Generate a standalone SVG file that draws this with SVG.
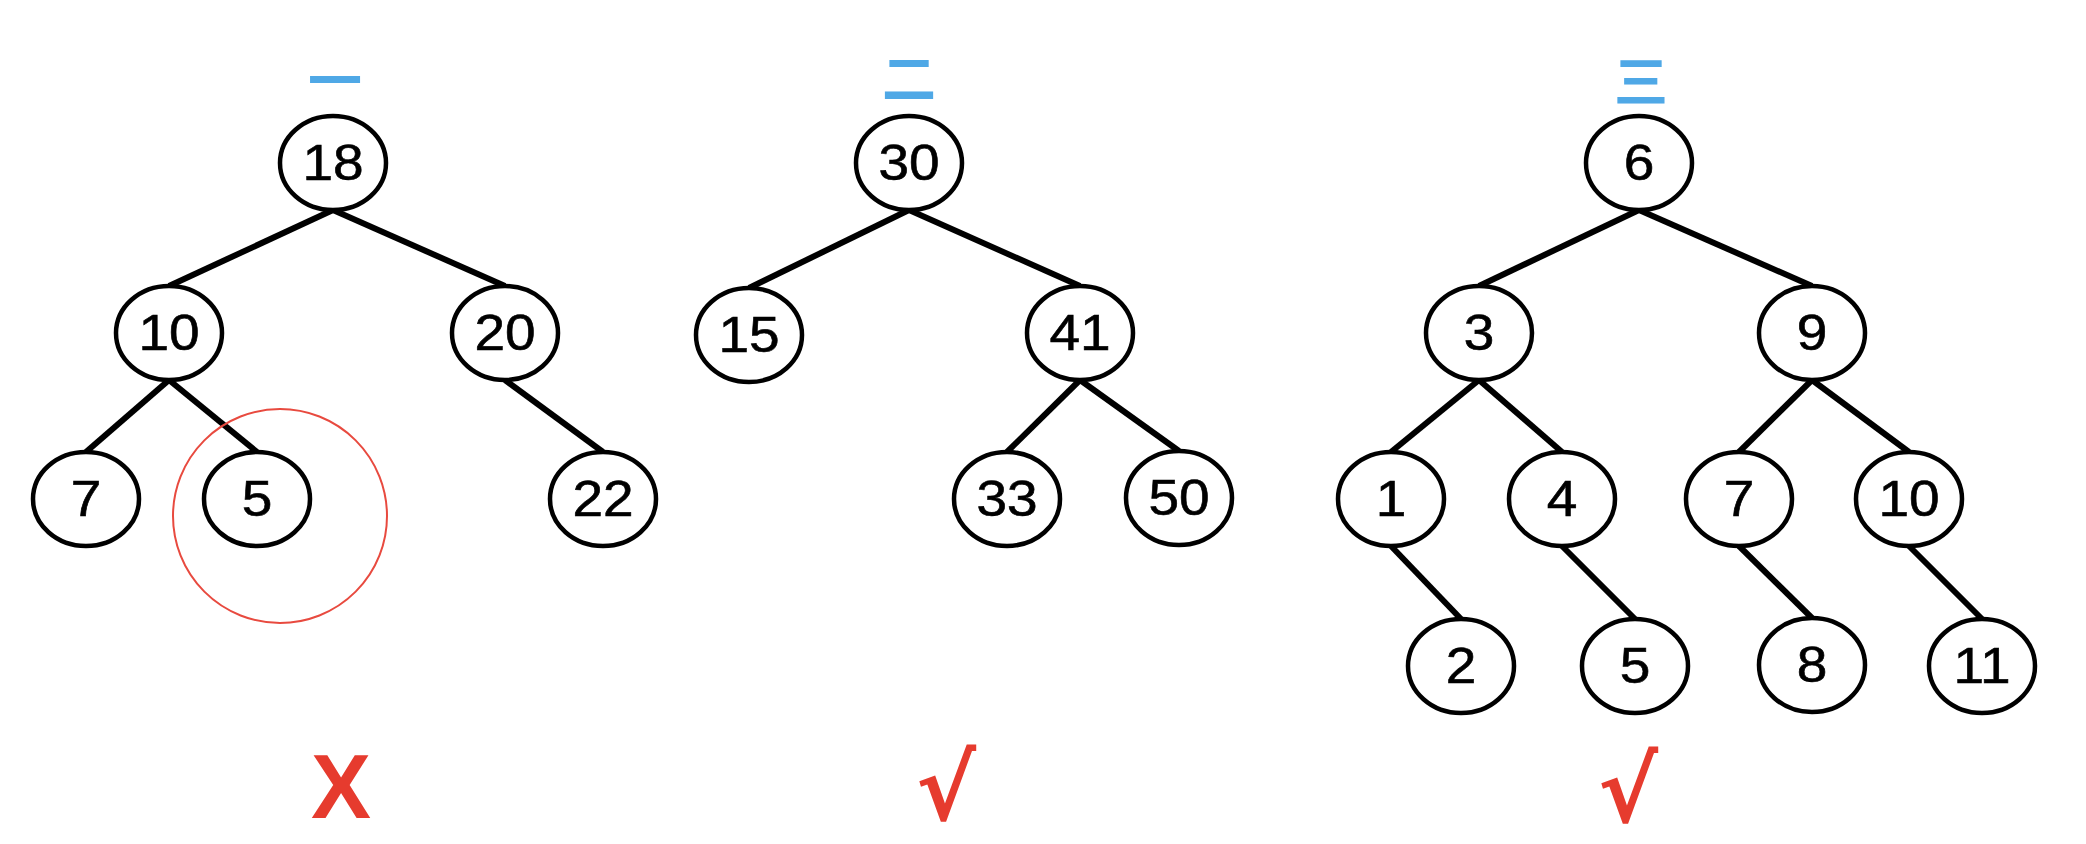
<svg xmlns="http://www.w3.org/2000/svg" width="2086" height="844" viewBox="0 0 2086 844">
  <style>
    .shape { fill: #ffffff; stroke: #000000; stroke-width: 4.5; }
    .label { font-family: "Liberation Sans", Arial, sans-serif; font-size: 50px; fill: #000000; stroke: #000000; stroke-width: 0.6; text-anchor: middle; }
    .edges line { stroke: #000000; stroke-width: 6; stroke-linecap: butt; }
    .title { font-family: "Noto Sans CJK SC", "Noto Sans", sans-serif; font-weight: bold; font-size: 54px; fill: #4fa8e6; text-anchor: middle; }
    .mark { font-family: "Liberation Sans", Arial, sans-serif; font-weight: bold; fill: #e63b2e; text-anchor: middle; }
    .tick { font-family: "DejaVu Sans", sans-serif; font-weight: bold; fill: #e63b2e; text-anchor: middle; }
  </style>
  <rect x="0" y="0" width="2086" height="844" fill="#ffffff"/>

  <!-- tree headings -->
  <text class="title" x="335" y="101">一</text>
  <text class="title" x="909" y="99">二</text>
  <text class="title" x="1641" y="102">三</text>

  <!-- connectors: parent bottom to child top -->
  <g id="connectors" class="edges">
    <!-- tree 1 -->
    <line x1="333" y1="210" x2="169" y2="286"/>
    <line x1="333" y1="210" x2="505" y2="286"/>
    <line x1="169" y1="380" x2="86" y2="452"/>
    <line x1="169" y1="380" x2="257" y2="452"/>
    <line x1="505" y1="380" x2="603" y2="452"/>
    <!-- tree 2 -->
    <line x1="909" y1="210" x2="749" y2="288"/>
    <line x1="909" y1="210" x2="1080" y2="286"/>
    <line x1="1080" y1="380" x2="1007" y2="452"/>
    <line x1="1080" y1="380" x2="1179" y2="451"/>
    <!-- tree 3 -->
    <line x1="1639" y1="210" x2="1479" y2="286"/>
    <line x1="1639" y1="210" x2="1812" y2="286"/>
    <line x1="1479" y1="380" x2="1391" y2="452"/>
    <line x1="1479" y1="380" x2="1562" y2="452"/>
    <line x1="1812" y1="380" x2="1739" y2="452"/>
    <line x1="1812" y1="380" x2="1909" y2="452"/>
    <line x1="1391" y1="546" x2="1461" y2="619"/>
    <line x1="1562" y1="546" x2="1635" y2="619"/>
    <line x1="1739" y1="546" x2="1812" y2="618"/>
    <line x1="1909" y1="546" x2="1982" y2="619"/>
  </g>

  <!-- tree 1 -->
  <g id="t1-n18" transform="translate(333,163)"><ellipse class="shape" rx="53" ry="47"/><text class="label" transform="scale(1.1,1)" y="17">18</text></g>
  <g id="t1-n10" transform="translate(169,333)"><ellipse class="shape" rx="53" ry="47"/><text class="label" transform="scale(1.1,1)" y="17">10</text></g>
  <g id="t1-n20" transform="translate(505,333)"><ellipse class="shape" rx="53" ry="47"/><text class="label" transform="scale(1.1,1)" y="17">20</text></g>
  <g id="t1-n7" transform="translate(86,499)"><ellipse class="shape" rx="53" ry="47"/><text class="label" transform="scale(1.1,1)" y="17">7</text></g>
  <g id="t1-n5" transform="translate(257,499)"><ellipse class="shape" rx="53" ry="47"/><text class="label" transform="scale(1.1,1)" y="17">5</text></g>
  <g id="t1-n22" transform="translate(603,499)"><ellipse class="shape" rx="53" ry="47"/><text class="label" transform="scale(1.1,1)" y="17">22</text></g>

  <!-- highlight around the misplaced node -->
  <circle id="t1-highlight" cx="280" cy="516" r="107" fill="none" stroke="#e84a3f" stroke-width="2"/>

  <!-- tree 2 -->
  <g id="t2-n30" transform="translate(909,163)"><ellipse class="shape" rx="53" ry="47"/><text class="label" transform="scale(1.1,1)" y="17">30</text></g>
  <g id="t2-n15" transform="translate(749,335)"><ellipse class="shape" rx="53" ry="47"/><text class="label" transform="scale(1.1,1)" y="17">15</text></g>
  <g id="t2-n41" transform="translate(1080,333)"><ellipse class="shape" rx="53" ry="47"/><text class="label" transform="scale(1.1,1)" y="17">41</text></g>
  <g id="t2-n33" transform="translate(1007,499)"><ellipse class="shape" rx="53" ry="47"/><text class="label" transform="scale(1.1,1)" y="17">33</text></g>
  <g id="t2-n50" transform="translate(1179,498)"><ellipse class="shape" rx="53" ry="47"/><text class="label" transform="scale(1.1,1)" y="17">50</text></g>

  <!-- tree 3 -->
  <g id="t3-n6" transform="translate(1639,163)"><ellipse class="shape" rx="53" ry="47"/><text class="label" transform="scale(1.1,1)" y="17">6</text></g>
  <g id="t3-n3" transform="translate(1479,333)"><ellipse class="shape" rx="53" ry="47"/><text class="label" transform="scale(1.1,1)" y="17">3</text></g>
  <g id="t3-n9" transform="translate(1812,333)"><ellipse class="shape" rx="53" ry="47"/><text class="label" transform="scale(1.1,1)" y="17">9</text></g>
  <g id="t3-n1" transform="translate(1391,499)"><ellipse class="shape" rx="53" ry="47"/><text class="label" transform="scale(1.1,1)" y="17">1</text></g>
  <g id="t3-n4" transform="translate(1562,499)"><ellipse class="shape" rx="53" ry="47"/><text class="label" transform="scale(1.1,1)" y="17">4</text></g>
  <g id="t3-n7" transform="translate(1739,499)"><ellipse class="shape" rx="53" ry="47"/><text class="label" transform="scale(1.1,1)" y="17">7</text></g>
  <g id="t3-n10" transform="translate(1909,499)"><ellipse class="shape" rx="53" ry="47"/><text class="label" transform="scale(1.1,1)" y="17">10</text></g>
  <g id="t3-n2" transform="translate(1461,666)"><ellipse class="shape" rx="53" ry="47"/><text class="label" transform="scale(1.1,1)" y="17">2</text></g>
  <g id="t3-n5" transform="translate(1635,666)"><ellipse class="shape" rx="53" ry="47"/><text class="label" transform="scale(1.1,1)" y="17">5</text></g>
  <g id="t3-n8" transform="translate(1812,665)"><ellipse class="shape" rx="53" ry="47"/><text class="label" transform="scale(1.1,1)" y="17">8</text></g>
  <g id="t3-n11" transform="translate(1982,666)"><ellipse class="shape" rx="53" ry="47"/><text class="label" transform="scale(1.1,1)" y="17">11</text></g>

  <!-- verdicts -->
  <text class="mark" x="341" y="818" font-size="90">X</text>
  <text class="tick" x="946" y="820" font-size="90">√</text>
  <text class="tick" x="1628" y="822" font-size="90">√</text>
</svg>
